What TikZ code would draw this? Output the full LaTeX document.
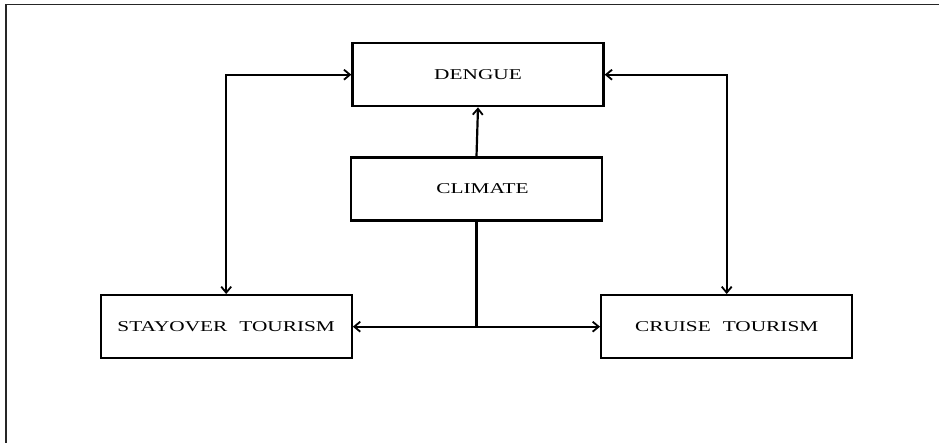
\documentclass[tikz,border=0pt]{standalone}
\usepackage{fontspec}
\setmainfont{Liberation Serif}[FakeStretch=1.42]
\usetikzlibrary{arrows.meta}

\tikzset{
  box/.style={draw=black, line width=2.3pt, rectangle, inner sep=0pt,
    minimum width=251pt, minimum height=63pt,
    font=\fontsize{15}{17}\selectfont},
  tip/.tip={Straight Barb[length=6pt,width=10pt,line width=1.8pt]},
  link/.style={draw=black, line width=2.2pt},
  arr/.style={link, -tip},
  biarr/.style={link, tip-tip},
}

\begin{document}
\begin{tikzpicture}[x=1pt,y=-1pt]
  \useasboundingbox (0,0) rectangle (939,443);

  % open frame: top and left edges only
  \draw[line width=1.8pt, black!85] (6,443) -- (6,4.5) -- (939,4.5);

  % boxes
  \node[box] (deng)   at (478,74.7)   {DENGUE\hspace{22pt}};
  \node[box] (clim)   at (476.5,189)  {\raisebox{-2.5pt}{\hspace{12pt}CLIMATE}};
  \node[box] (stay)   at (226.2,326.7) {STAYOVER\hspace{12pt}TOURISM};
  \node[box] (cruise) at (726.7,326.7) {CRUISE\hspace{12pt}TOURISM};

  % climate drives dengue
  \draw[arr] (clim.north) -- (deng.south);

  % two-way links between tourism and dengue
  \draw[biarr] (stay.north) |- (deng.west);
  \draw[biarr] (cruise.north) |- (deng.east);

  % climate splits to both kinds of tourism
  \coordinate (split) at (clim.south |- stay.east);
  \draw[link] (clim.south) -- (split);
  \draw[arr] (split) -- (stay.east);
  \draw[arr] (split) -- (cruise.west);
\end{tikzpicture}
\end{document}
